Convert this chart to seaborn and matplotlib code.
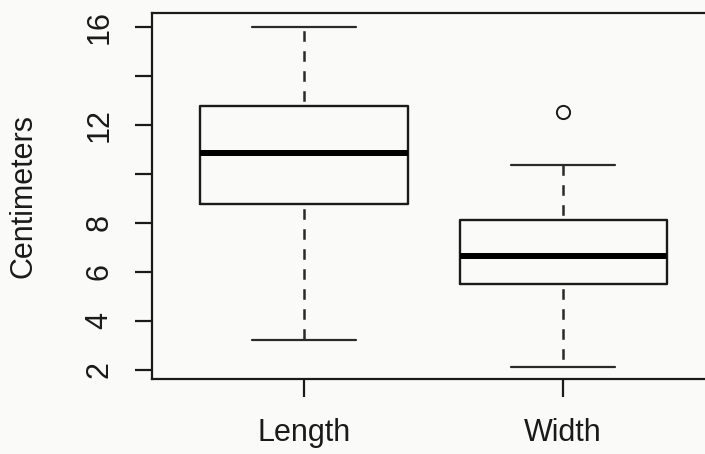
import matplotlib
matplotlib.use("Agg")
import matplotlib.pyplot as plt
import seaborn as sns
import pandas as pd

# Five-number summaries per measurement (cm) plus outlying points
categories = ["Length", "Width"]
whisker_low = [3.21, 2.12]
lower_hinge = [8.76, 5.50]
medians = [10.86, 6.66]
upper_hinge = [12.78, 8.11]
whisker_high = [16.0, 10.37]
outliers = [[], [12.55]]

ytick_values = [2, 4, 6, 8, 10, 12, 14, 16]
ytick_labels = ["2", "4", "6", "8", "", "12", "", "16"]
y_label = "Centimeters"

# Nine observations per group whose quartiles and whisker ends fall on the summary values
rows = []
for cat, lo, q1, med, q3, hi, extra in zip(categories, whisker_low, lower_hinge,
                                           medians, upper_hinge, whisker_high, outliers):
    top = [hi] + list(extra)
    top = [q3] * (2 - len(top)) + top
    sample = [lo, q1, q1, med, med, med, q3] + top
    rows += [(cat, v) for v in sample]
df = pd.DataFrame(rows, columns=["part", "cm"])

sns.set_theme(style="white")
plt.rcParams["font.family"] = ["Liberation Sans", "DejaVu Sans"]
plt.rcParams["lines.scale_dashes"] = False

bg = "#fafaf8"
ink = "#1a1a1a"
fs = 22
W, H = 705, 454
fig = plt.figure(figsize=(W / 100, H / 100), dpi=100, facecolor=bg)
left, right, top_px, bottom_px = 152.3, 715.0, 13.3, 379.3
ax = fig.add_axes([left / W, 1 - bottom_px / H, (right - left) / W, (bottom_px - top_px) / H])
ax.set_facecolor(bg)

sns.boxplot(
    data=df, x="part", y="cm", ax=ax, order=categories,
    color=ink, fill=False, width=0.8, linewidth=1.6,
    boxprops=dict(color=ink, linewidth=1.7),
    medianprops=dict(color="black", linewidth=4.3),
    whiskerprops=dict(color="#2a2a2a", linewidth=1.8, linestyle=(11.0, (7.6, 6.8))),
    capprops=dict(color="#2a2a2a", linewidth=1.6),
    flierprops=dict(marker="o", markersize=9.5, markerfacecolor="none",
                    markeredgecolor=ink, markeredgewidth=1.4),
)

ax.set_xlim(-0.586, 1.586)
ax.set_ylim(1.60, 16.57)
ax.set_yticks(ytick_values)
ax.set_yticklabels(ytick_labels)
ax.set_xlabel("")
ax.set_ylabel(y_label, fontsize=fs, color=ink)
ax.yaxis.set_label_coords(-0.203, 0.5)

for s in ax.spines.values():
    s.set_visible(True)
    s.set_color(ink)
    s.set_linewidth(1.6)

ax.tick_params(axis="y", left=True, length=12.2, width=1.6, color=ink,
               labelsize=fs, labelcolor=ink, pad=15, rotation=90)
ax.tick_params(axis="x", bottom=True, length=13, width=1.6, color=ink,
               labelsize=fs, labelcolor=ink, pad=15)
for lab in ax.get_yticklabels():
    lab.set_va("center")

fig.savefig("out.png", dpi=100, facecolor=bg)
